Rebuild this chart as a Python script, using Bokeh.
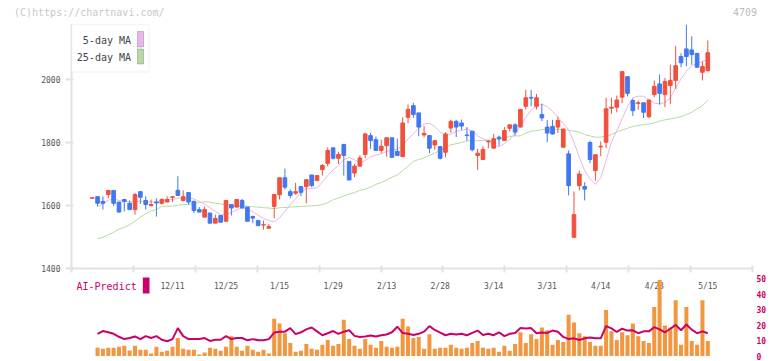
from bokeh.plotting import figure
from bokeh.layouts import column
from bokeh.models import Range1d, FixedTicker, Label, BoxAnnotation, ColumnDataSource, Div
from bokeh.embed import file_html
from bokeh.resources import INLINE
from bokeh.core.properties import value

# ---------------- data ----------------
dates = ["11/20","11/21","11/22","11/25","11/26","11/27","11/28","11/29",
         "12/2","12/3","12/4","12/5","12/6","12/9","12/10","12/11","12/12","12/13","12/16","12/17",
         "12/18","12/19","12/20","12/23","12/24","12/25","12/26","12/27","12/30",
         "1/6","1/7","1/8","1/9","1/10","1/14","1/15","1/16","1/17","1/20","1/21","1/22","1/23",
         "1/24","1/27","1/28","1/29","1/30","1/31",
         "2/3","2/4","2/5","2/6","2/7","2/10","2/12","2/13","2/14","2/17","2/18","2/19","2/20",
         "2/21","2/25","2/26","2/27","2/28",
         "3/3","3/4","3/5","3/6","3/7","3/10","3/11","3/12","3/13","3/14","3/17","3/18","3/19",
         "3/21","3/24","3/25","3/26","3/27","3/28","3/31",
         "4/1","4/2","4/3","4/4","4/7","4/8","4/9","4/10","4/11","4/14","4/15","4/16","4/17",
         "4/18","4/21","4/22","4/23","4/24","4/25","4/28","4/30",
         "5/1","5/2","5/7","5/8","5/9","5/12","5/13","5/14","5/15"]

open_ = [1623,1628,1613,1635,1648,1611,1619,1607,1587,1644,1616,1600,1611,1607,1611,1626,1648,1616,1641,1613,
         1587,1563,1576,1544,1568,1550,1603,1595,1616,1595,1565,1552,1538,1528,1597,1634,1688,1644,1639,1660,
         1660,1697,1679,1714,1734,1783,1750,1794,1740,1703,1725,1762,1822,1809,1775,1790,1815,1772,1755,1880,
         1917,1894,1824,1822,1792,1787,1769,1846,1867,1862,1824,1836,1759,1746,1802,1782,1817,1806,1845,1856,
         1849,1915,1943,1915,1889,1849,1851,1849,1785,1764,1499,1663,1660,1800,1711,1786,1801,1909,1912,1944,
         2009,1933,1924,1926,1882,1952,1986,1952,1981,1997,2073,2097,2094,2083,2023,2028]
high = [1626,1629,1629,1648,1648,1611,1619,1616,1639,1644,1629,1619,1623,1623,1629,1629,1693,1648,1641,1616,
        1595,1597,1576,1571,1568,1616,1603,1619,1621,1595,1568,1555,1552,1541,1635,1688,1717,1651,1672,1660,
        1682,1697,1695,1732,1785,1783,1771,1794,1740,1732,1759,1831,1831,1819,1809,1815,1815,1812,1880,1921,
        1926,1894,1852,1822,1806,1787,1833,1872,1872,1873,1849,1836,1780,1788,1808,1827,1822,1849,1856,1861,
        1905,1967,1967,1954,1923,1872,1872,1882,1843,1775,1644,1711,1674,1806,1761,1803,1942,1942,1949,2025,
        2009,1939,1933,1926,1935,1997,2016,2005,2047,2106,2083,2174,2137,2083,2057,2124]
low = [1622,1597,1587,1623,1598,1579,1581,1587,1571,1605,1587,1597,1565,1603,1611,1611,1632,1613,1603,1576,
       1579,1563,1544,1544,1547,1550,1568,1593,1592,1550,1544,1536,1524,1528,1560,1619,1651,1623,1634,1630,
       1607,1658,1679,1695,1724,1746,1732,1695,1681,1690,1725,1750,1780,1775,1766,1755,1753,1759,1755,1861,
       1878,1820,1817,1766,1777,1746,1753,1831,1817,1840,1806,1772,1713,1746,1782,1782,1790,1806,1835,1822,
       1849,1905,1915,1905,1868,1801,1825,1830,1785,1632,1499,1648,1616,1734,1679,1757,1783,1891,1896,1925,
       1946,1884,1904,1878,1877,1944,1920,1912,1923,1970,2039,2042,2047,2039,1997,2025]
close = [1625,1607,1607,1648,1607,1579,1613,1587,1635,1626,1603,1603,1608,1619,1619,1628,1632,1628,1611,1584,
         1579,1587,1544,1559,1547,1616,1592,1619,1592,1550,1560,1536,1539,1533,1635,1688,1658,1632,1644,1642,
         1682,1663,1695,1727,1775,1750,1762,1759,1681,1725,1751,1827,1806,1775,1788,1815,1753,1759,1862,1905,
         1889,1849,1829,1782,1806,1750,1827,1867,1849,1852,1822,1777,1766,1778,1804,1812,1812,1838,1856,1833,
         1905,1942,1941,1942,1878,1830,1827,1870,1843,1663,1571,1700,1652,1746,1761,1788,1907,1912,1935,2025,
         1956,1901,1926,1896,1935,1978,1956,1994,1997,2044,2053,2073,2079,2039,2041,2085]

# moving averages and AI-Predict start on the 2nd trading day shown
ma5 = [1597,1605,1616,1621,1616,1614,1612,1612,1614,1612,1611,1612,1616,1618,1619,1624,1624,1623,1621,1613,
       1605,1593,1581,1571,1571,1578,1586,1593,1588,1580,1569,1559,1552,1548,1561,1581,1603,1621,1643,1653,
       1654,1656,1674,1695,1713,1727,1745,1753,1745,1735,1743,1755,1760,1764,1772,1775,1779,1790,1812,1827,
       1845,1859,1861,1851,1833,1824,1825,1836,1838,1843,1836,1821,1812,1806,1790,1787,1796,1810,1830,1849,
       1880,1904,1915,1922,1914,1899,1880,1861,1840,1801,1753,1711,1685,1667,1688,1743,1801,1838,1875,1914,
       1942,1947,1947,1935,1925,1923,1927,1942,1973,2002,2026,2044,2050,2058,2064]
ma25 = [1494,1499,1507,1515,1525,1531,1539,1550,1563,1574,1582,1588,1597,1598,1598,1601,1603,1603,1607,1609,
        1612,1611,1607,1605,1603,1599,1599,1598,1598,1596,1595,1593,1592,1590,1593,1594,1595,1596,1597,1598,
        1599,1600,1603,1609,1618,1624,1630,1637,1641,1648,1652,1658,1667,1673,1681,1690,1697,1711,1724,1740,
        1746,1751,1759,1766,1775,1785,1793,1796,1800,1805,1806,1806,1806,1808,1806,1810,1815,1819,1821,1821,
        1830,1836,1838,1841,1842,1842,1842,1841,1839,1836,1833,1825,1821,1817,1817,1821,1825,1833,1840,1845,
        1851,1854,1857,1859,1862,1868,1872,1875,1878,1882,1889,1896,1907,1917,1935]

ai_bars = [5.3,4.7,5.3,5.3,5.9,6.6,3.5,6.6,4.1,4.1,1.6,5.9,2.8,3.4,5.9,11.6,4.7,4.1,4.1,0.9,
           2.2,5.3,4.7,3.4,5.9,12.8,5.9,3.4,6.6,4.1,2.8,4.1,1.6,24.1,20.9,14.7,8.4,2.8,3.4,7.8,
           4.7,4.1,7.2,10.3,6.6,7.8,23.4,10.9,6.6,4.7,10.9,7.2,5.3,9.7,5.9,5.3,5.9,24.1,19.1,11.6,
           12.2,4.7,14.1,4.7,5.3,5.3,7.2,5.3,4.7,5.3,8.4,9.7,5.3,4.7,5.3,2.8,6.6,3.4,7.8,15.3,
           8.4,14.1,10.9,18.4,16.6,7.2,10.3,9.1,26.6,21.6,14.7,12.8,9.1,6.6,6.6,29.7,15.9,10.3,15.3,13.4,
           20.9,12.8,9.7,8.4,31.6,49.1,19.7,18.4,35.9,7.2,31.6,9.7,7.2,35.9,9.7]
ai_line = [14.3,16.1,15.3,14.3,12.4,10.9,11.6,12.6,10.9,12.8,11.6,12.8,10.5,9.5,10.9,18.0,12.8,10.9,10.9,10.9,
           11.6,9.7,10.5,10.5,12.8,10.9,11.6,11.6,10.1,10.9,10.1,10.1,10.9,15.1,15.7,15.7,18.0,14.1,15.3,17.2,
           18.4,15.9,13.4,14.7,16.1,14.3,15.7,16.6,13.0,12.2,12.6,13.2,12.6,13.4,13.9,15.3,18.9,14.8,14.3,13.6,
           14.3,15.7,19.3,16.8,15.1,13.4,14.3,13.9,14.3,13.4,14.9,16.4,13.6,14.3,13.4,15.3,12.8,14.3,14.9,18.0,
           17.8,18.0,14.7,15.1,14.9,16.4,15.7,12.3,10.9,11.4,10.3,11.4,12.0,11.4,11.4,19.3,17.8,15.5,17.6,16.4,
           16.6,14.7,15.9,15.9,18.6,17.2,15.3,17.6,20.1,16.6,20.3,17.0,14.7,15.9,14.7]

tick_labels = ["12/11","12/25","1/15","1/29","2/13","2/28","3/14","3/31","4/14","4/28","5/15"]
price_ticks = [1400, 1600, 1800, 2000]
ai_ticks = [0, 10, 20, 30, 40, 50]

# ---------------- styling / layout constants (page pixels) ----------------
FONT = "DejaVu Sans Mono"
UP, DOWN = "#f0503c", "#4078f0"
AXIS_GREY = "#e2e2e2"
MAGENTA = "#cc0066"
W = 772
LEFT, FRAME_W = 71, 681
RIGHT = W - LEFT - FRAME_W                   # 20
X0, X1 = -3.867, 123.35                      # index range of the frames
HEAD_H = 22                                  # page y 0 .. 22
P1_TOP, P1_BOT = 22, 268                     # main frame, page y
P1_BORDER_BOT = 5
PX_PER_UNIT = 0.315                          # main panel: px per yen
P2_TOP, P2_BOT = 273, 361                    # lower frame, page y
AI_ZERO, AI_PX = 355.5, 1.55                 # lower panel: page y of 0, px per unit


def idx(px):
    """page x -> index coordinate"""
    return X0 + (px - LEFT) * (X1 - X0) / FRAME_W


def val(py):
    """page y -> price coordinate of the main panel"""
    return 1400 + (P1_BOT - py) / PX_PER_UNIT


def aival(py):
    """page y -> value coordinate of the lower panel"""
    return (AI_ZERO - py) / AI_PX


def clean(p):
    p.grid.visible = False
    p.outline_line_color = None
    p.background_fill_color = "white"
    p.border_fill_color = "white"


n = len(dates)
xs = list(range(n))
colors = [UP if c >= o else DOWN for o, c in zip(open_, close)]
src = ColumnDataSource(dict(
    x=xs, high=high, low=low,
    top=[max(o, c) for o, c in zip(open_, close)],
    bottom=[min(o, c) for o, c in zip(open_, close)],
    color=colors))

# ---------------- header strip (copyright, code) ----------------
head_html = (
    f'<div style="position:relative;width:{W}px;height:{HEAD_H}px;'
    f"font-family:'{FONT}',monospace;font-size:10px;line-height:12px;\">"
    '<span style="position:absolute;left:14px;top:7px;color:#c8c8c8;white-space:nowrap;">'
    '(C)https://chartnavi.com/</span>'
    '<span style="position:absolute;right:15px;top:7px;color:#bbbbbb;white-space:nowrap;">4709</span>'
    '</div>')
head = Div(text=head_html, width=W, height=HEAD_H, margin=0)

# ---------------- main panel ----------------
p1 = figure(frame_width=FRAME_W, frame_height=P1_BOT - P1_TOP,
            x_range=Range1d(X0, X1), y_range=Range1d(1400, val(P1_TOP)),
            output_backend="svg", toolbar_location=None,
            min_border_left=LEFT, min_border_right=RIGHT, min_border_top=0,
            min_border_bottom=P1_BORDER_BOT, x_axis_location="below", y_axis_location="left")
clean(p1)

p1.line(xs[1:], ma25, color="#b4dca0", line_width=1)
p1.line(xs[1:], ma5, color="#ebb4eb", line_width=1)
p1.segment(x0="x", y0="low", x1="x", y1="high", color="color", line_width=1, source=src)
p1.vbar(x="x", width=0.68, top="top", bottom="bottom", fill_color="color",
        line_color="color", line_width=1, source=src)

xa = p1.xaxis[0]
xa.ticker = FixedTicker(ticks=[X0 + k * (X1 - X0) / 11 for k in range(12)])
xa.major_label_text_font_size = "1px"
xa.major_label_text_color = None
xa.major_label_standoff = 0
xa.axis_line_color = AXIS_GREY
xa.axis_line_width = 2
xa.major_tick_line_color = AXIS_GREY
xa.major_tick_line_width = 2
xa.major_tick_in = 3
xa.major_tick_out = 4
xa.minor_tick_line_color = None

ya = p1.yaxis[0]
ya.ticker = FixedTicker(ticks=price_ticks)
ya.bounds = (1400, val(24))
ya.major_label_text_font = FONT
ya.major_label_text_font_size = "8px"
ya.major_label_text_color = "#555555"
ya.major_label_standoff = 5
ya.axis_line_color = AXIS_GREY
ya.axis_line_width = 2
ya.major_tick_line_color = AXIS_GREY
ya.major_tick_line_width = 2
ya.major_tick_in = 2
ya.major_tick_out = 6
ya.minor_tick_line_color = None

# legend box (text on the left, colour swatch on the right, as in the original)
p1.add_layout(BoxAnnotation(left=X0, right=idx(148.5), top=val(24), bottom=val(71.5),
                            fill_color="white", fill_alpha=1, line_color="#dddddd", line_width=1.5))
p1.add_layout(BoxAnnotation(left=idx(137), right=idx(143), top=val(31), bottom=val(46.5),
                            fill_color="#ebb4eb", fill_alpha=1, line_color="#555555", line_width=1))
p1.add_layout(BoxAnnotation(left=idx(137), right=idx(143), top=val(48.5), bottom=val(63.5),
                            fill_color="#b4dca0", fill_alpha=1, line_color="#555555", line_width=1))
for txt, py in (("5-day MA", 40), ("25-day MA", 57)):
    p1.add_layout(Label(x=idx(130.5), y=val(py), text=txt, text_align="right", text_baseline="middle",
                        text_font=FONT, text_font_size="10px", text_color="#444444"))

# ---------------- lower panel (AI-Predict) ----------------
p2 = figure(frame_width=FRAME_W, frame_height=P2_BOT - P2_TOP, x_range=p1.x_range,
            y_range=Range1d(aival(P2_BOT), aival(P2_TOP)),
            output_backend="svg", toolbar_location=None,
            min_border_left=LEFT, min_border_right=RIGHT, min_border_top=0, min_border_bottom=0,
            x_axis_location=None, y_axis_location="right")
clean(p2)

lbl_src = ColumnDataSource(dict(x=[dates.index(t) for t in tick_labels], text=tick_labels))
p2.text(x="x", y=aival(285.5), text="text", source=lbl_src, text_font=value(FONT),
        text_font_size=value("8px"), text_color="#555555", text_align="center", text_baseline="middle")

p2.vbar(x=xs[1:], top=ai_bars, bottom=0, width=0.75, fill_color="#f2963f", line_color=None)
p2.line(xs[1:], ai_line, color=MAGENTA, line_width=2)

p2.add_layout(Label(x=idx(76), y=aival(286), text="AI-Predict", text_align="left", text_baseline="middle",
                    text_font=FONT, text_font_size="10px", text_color=MAGENTA))
p2.add_layout(BoxAnnotation(left=idx(142.3), right=idx(149), top=aival(277), bottom=aival(293),
                            fill_color=MAGENTA, fill_alpha=1, line_color=None))

ra = p2.yaxis[0]
ra.ticker = FixedTicker(ticks=ai_ticks)
ra.axis_line_color = None
ra.major_tick_line_color = None
ra.major_tick_in = 0
ra.major_tick_out = 0
ra.minor_tick_line_color = None
ra.major_label_standoff = 4
ra.major_label_text_font = FONT
ra.major_label_text_font_size = "8px"
ra.major_label_text_font_style = "bold"
ra.major_label_text_color = MAGENTA

layout = column(head, p1, p2)
open("out.html", "w").write(file_html(layout, INLINE))
